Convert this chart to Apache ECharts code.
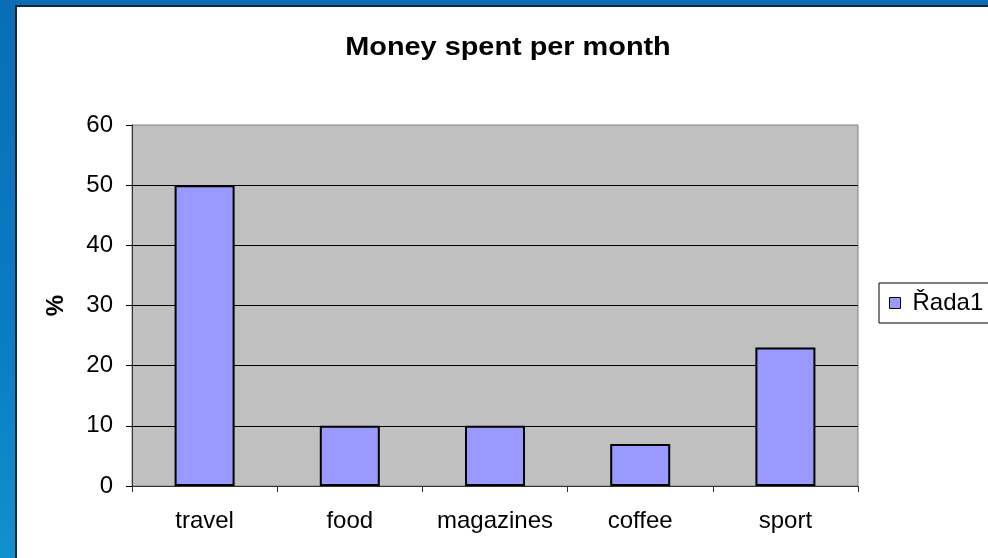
<!DOCTYPE html>
<html>
<head>
<meta charset="utf-8">
<script src="https://cdn.jsdelivr.net/npm/echarts@6/dist/echarts.min.js"></script>
<style>
  html, body { margin: 0; padding: 0; }
  body {
    width: 988px; height: 558px; overflow: hidden; position: relative;
    background: linear-gradient(180deg, #0a6db6 0%, #0a7cc4 60%, #1190cf 100%);
  }
  #panel {
    position: absolute; left: 15px; top: 5px; right: 0; bottom: 0;
    background: #ffffff;
    border-left: 2px solid #1b2633; border-top: 2px solid #1b2633;
  }
  #chart { position: absolute; left: 0; top: 0; width: 988px; height: 558px; }
</style>
</head>
<body>
<div id="panel"></div>
<div id="chart"></div>
<script>
// Monthly spending shares by category
const categories = ['travel', 'food', 'magazines', 'coffee', 'sport'];
const seriesName = 'Řada1';
const values = [50, 10, 10, 7, 23];
const yTicks = { min: 0, max: 60, interval: 10 };
const titleText = 'Money spent per month';

const font = '"Liberation Sans", Arial, sans-serif';
const chart = echarts.init(document.getElementById('chart'), null, { renderer: 'canvas' });

chart.setOption({
  animation: false,
  backgroundColor: 'transparent',
  graphic: [{
    // chart title, slightly widened bold face
    type: 'text',
    x: 508, y: 48,
    scaleX: 1.11,
    style: {
      text: titleText,
      font: 'bold 26px ' + font,
      fill: '#000',
      align: 'center',
      verticalAlign: 'middle'
    }
  }],
  legend: {
    left: 879, top: 283,
    padding: [8, 10, 8, 10],
    borderColor: '#000', borderWidth: 1,
    backgroundColor: '#fff',
    icon: 'rect',
    itemWidth: 11, itemHeight: 11, itemGap: 5,
    itemStyle: { borderWidth: 1, borderColor: '#000' },
    textStyle: { fontFamily: font, fontSize: 24, color: '#000', padding: [0, 0, 0, 7] },
    data: [seriesName]
  },
  grid: {
    left: 132, right: 130, top: 125, bottom: 72,
    show: true, backgroundColor: '#c0c0c0', borderColor: '#808080', borderWidth: 1
  },
  xAxis: {
    type: 'category',
    data: categories,
    axisLine: { lineStyle: { color: '#333', width: 1 } },
    axisTick: { show: true, interval: 0, length: 6, lineStyle: { color: '#333' } },
    axisLabel: { interval: 0, margin: 23, fontFamily: font, fontSize: 24, color: '#000' }
  },
  yAxis: {
    type: 'value',
    min: yTicks.min, max: yTicks.max, interval: yTicks.interval,
    name: '%',
    nameLocation: 'middle',
    nameRotate: 90,
    nameGap: 64,
    nameTextStyle: { fontFamily: font, fontSize: 24, fontWeight: 'bold', color: '#000' },
    axisLine: { show: true, lineStyle: { color: '#333', width: 1 } },
    axisTick: { show: true, length: 6, lineStyle: { color: '#000' } },
    axisLabel: { margin: 19, fontFamily: font, fontSize: 24, color: '#000' },
    splitLine: { show: true, showMaxLine: false, lineStyle: { color: '#000', width: 1 } }
  },
  series: [{
    name: seriesName,
    type: 'bar',
    data: values,
    barWidth: 60,
    itemStyle: { color: '#9999ff', borderColor: '#000', borderWidth: 2 }
  }]
});
</script>
</body>
</html>
